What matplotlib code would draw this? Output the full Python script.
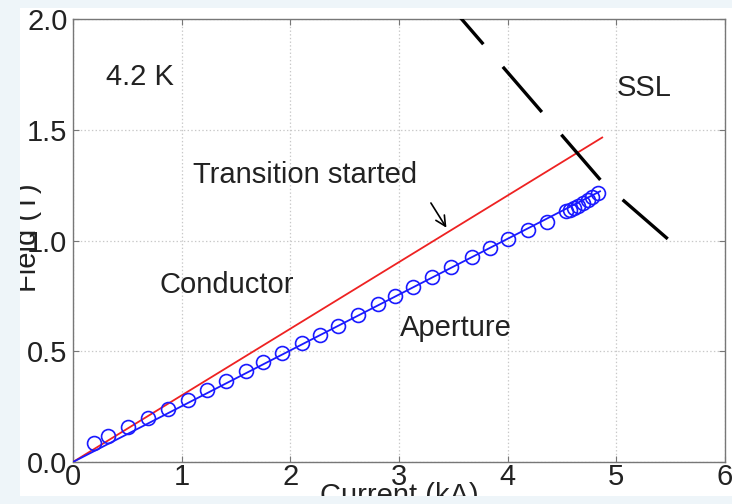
# Field vs current load line at 4.2 K, with the SSL curve

import matplotlib.pyplot as plt
from matplotlib.patches import Rectangle

# aperture field measurements (circles)
current_ka = [0.196, 0.325, 0.509, 0.688, 0.871, 1.055, 1.23, 1.405, 1.589, 1.75,
              1.925, 2.11, 2.27, 2.44, 2.625, 2.81, 2.96, 3.13, 3.30, 3.48, 3.67,
              3.84, 4.00, 4.19, 4.36, 4.54, 4.57, 4.61, 4.65, 4.69, 4.74, 4.78, 4.83]
field_t = [0.084, 0.117, 0.156, 0.197, 0.238, 0.280, 0.325, 0.367, 0.413, 0.453,
           0.491, 0.536, 0.573, 0.616, 0.664, 0.712, 0.751, 0.791, 0.836, 0.880,
           0.924, 0.965, 1.005, 1.047, 1.085, 1.132, 1.138, 1.147, 1.157, 1.168,
           1.182, 1.197, 1.216]

# straight aperture load line
aperture_x = [0.0, 4.85]
aperture_y = [0.0, 1.222]

# conductor peak field load line
conductor_x = [0.0, 4.87]
conductor_y = [0.0, 1.465]

# short sample limit
ssl_x = [3.40, 4.87, 5.49]
ssl_y = [2.10, 1.264, 1.0]

FONT = "Liberation Sans"
FS = 21


def main():
    plt.rcParams["font.family"] = [FONT, "DejaVu Sans"]
    plt.rcParams["lines.scale_dashes"] = False

    fig = plt.figure(figsize=(7.32, 5.04), dpi=100, facecolor="white")
    ax = fig.add_axes([73 / 732, 42 / 504, 652 / 732, 443 / 504])

    ax.plot(conductor_x, conductor_y, color="#ee2222", lw=1.3, zorder=3)
    ax.plot(aperture_x, aperture_y, color="#1a1aff", lw=1.3, zorder=3)
    ax.plot(current_ka, field_t, linestyle="none", marker="o", markersize=10,
            markerfacecolor="none", markeredgecolor="#1a1aff", markeredgewidth=1.2,
            zorder=4)
    ax.plot(ssl_x, ssl_y, color="black", lw=2.4, dashes=(43, 21.5),
            solid_capstyle="butt", dash_capstyle="butt", zorder=3)

    ax.set_xlim(0, 6)
    ax.set_ylim(0, 2)
    ax.set_xticks(range(0, 7))
    ax.set_yticks([0, 0.5, 1.0, 1.5, 2.0])
    ax.set_yticklabels(["0.0", "0.5", "1.0", "1.5", "2.0"])
    ax.grid(True, linestyle=":", color="#c8c8c8", lw=0.9)
    ax.set_axisbelow(True)

    for s in ax.spines.values():
        s.set_color("#777777")
        s.set_linewidth(1.0)
    ax.tick_params(direction="in", length=4, width=0.8, color="#777777",
                   top=True, right=True, labelsize=FS, labelcolor="#222222")
    ax.tick_params(axis="x", pad=1)
    ax.tick_params(axis="y", pad=4)

    ax.set_xlabel("Current (kA)", fontsize=FS, color="#222222")
    ax.xaxis.set_label_coords(0.5, -0.045)
    ax.set_ylabel("Field (T)", fontsize=FS, color="#222222")
    ax.yaxis.label.set_va("center")
    ax.yaxis.set_label_coords(-0.069, 0.506)

    txt = dict(fontsize=FS, color="#222222", va="center", ha="left")
    ax.text(0.30, 1.74, "4.2 K", **txt)
    ax.text(5.00, 1.69, "SSL", **txt)
    ax.text(1.10, 1.296, "Transition started", **txt)
    ax.text(0.80, 0.80, "Conductor", **txt)
    ax.text(3.01, 0.605, "Aperture", **txt)

    ax.annotate("", xy=(3.45, 1.047), xytext=(3.28, 1.18),
                arrowprops=dict(arrowstyle="->", color="black", lw=1.2,
                                mutation_scale=18))

    # light frame around the cropped figure
    band = "#eef5f9"
    for r in [(0, 0, 20 / 732, 1), (0, 1 - 8 / 504, 1, 8 / 504), (0, 0, 1, 8 / 504)]:
        fig.add_artist(Rectangle(r[:2], r[2], r[3], transform=fig.transFigure,
                                 facecolor=band, edgecolor="none", zorder=10))

    fig.savefig("out.png", dpi=100, facecolor=fig.get_facecolor())
    plt.close(fig)


if __name__ == "__main__":
    main()
